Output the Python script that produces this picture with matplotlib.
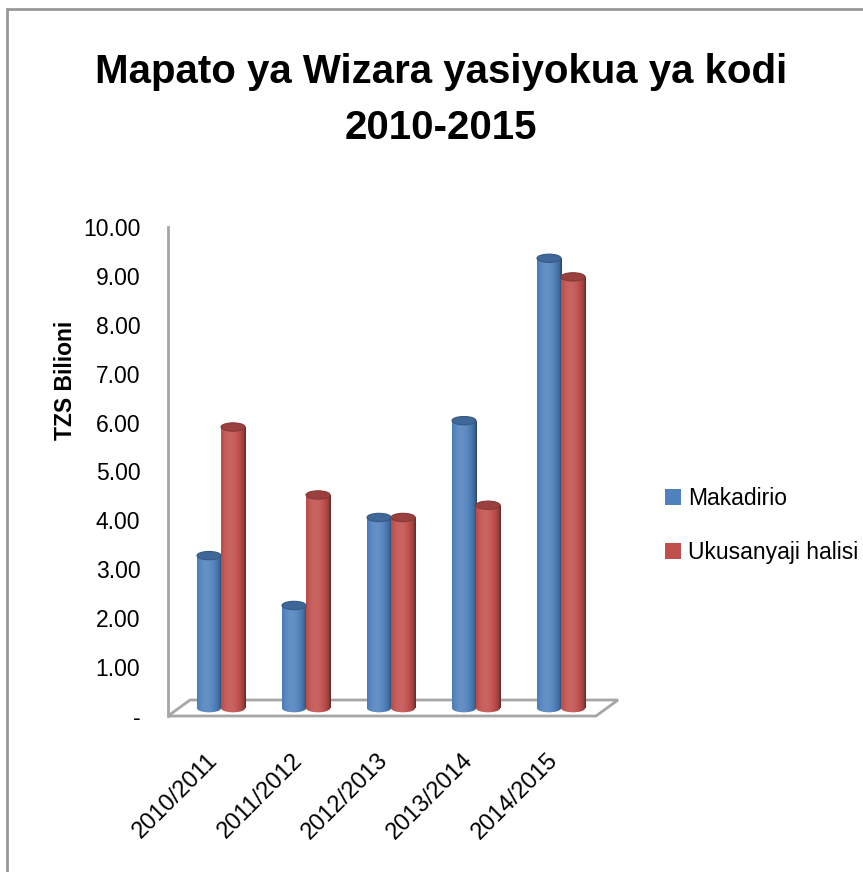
import numpy as np
import matplotlib
matplotlib.use("Agg")
import matplotlib.pyplot as plt
import matplotlib.transforms as mtransforms
from matplotlib.patches import Ellipse, Rectangle, Polygon
from matplotlib.lines import Line2D
from matplotlib.colors import to_rgb

categories = ["2010/2011", "2011/2012", "2012/2013", "2013/2014", "2014/2015"]
makadirio = [3.12, 2.10, 3.90, 5.88, 9.20]
ukusanyaji = [5.75, 4.36, 3.90, 4.15, 8.82]
series_names = ["Makadirio", "Ukusanyaji halisi"]
yticks = [0, 1, 2, 3, 4, 5, 6, 7, 8, 9, 10]
ytick_labels = ["-"] + [f"{v:.2f}" for v in yticks[1:]]
title = "Mapato ya Wizara yasiyokua ya kodi\n2010-2015"
ylabel = "TZS Bilioni"

FONT = ["Liberation Sans", "DejaVu Sans"]
plt.rcParams["font.family"] = FONT

colors = ["#4F81BD", "#C0504D"]

W, H = 863, 872
fig = plt.figure(figsize=(W / 100, H / 100), dpi=100)
fig.patch.set_facecolor("white")

# figure border (only top/left visible in the reference)
fig.add_artist(Rectangle((7 / W, -0.05), 1.2, 1 - 9 / H + 0.05, transform=fig.transFigure,
                         fill=False, edgecolor="#999999", linewidth=2.0))

left, right, bottom, top = 168, 600, 716, 227
ax = fig.add_axes([left / W, 1 - bottom / H, (right - left) / W, (bottom - top) / H])
ax.set_facecolor("none")

x = np.arange(len(categories))
bw = 0.283
depth_off = 0.16   # vertical shift for bars standing mid-depth on the floor
ell_h = 0.17       # ellipse height (data units) for cylinder caps


def shade(c, f):
    r = np.array(to_rgb(c))
    if f >= 1:
        return np.clip(r + (1 - r) * (f - 1), 0, 1)
    return np.clip(r * f, 0, 1)


def gradient(c, n=64):
    t = np.linspace(0, 1, n)
    prof = 1.12 - 0.45 * ((t - 0.38) / 0.62) ** 2
    prof = np.where(t > 0.9, prof - (t - 0.9) * 1.5, prof)
    return np.array([shade(c, f) for f in prof])[None, :, :]


for si, (vals, col) in enumerate(zip([makadirio, ukusanyaji], colors)):
    xs = x - bw / 2 + si * bw
    bars = ax.bar(xs, vals, width=bw, bottom=depth_off, color="none", edgecolor="none", zorder=2)
    grad = gradient(col)
    for b in bars:
        bx, by, bwid, bh = b.get_x(), b.get_y(), b.get_width(), b.get_height()
        ext = [bx, bx + bwid, by - ell_h, by + bh]
        body = Rectangle((bx, by), bwid, bh, transform=ax.transData)
        im = ax.imshow(grad, extent=ext, aspect="auto", zorder=3, interpolation="bilinear")
        im.set_clip_path(body)
        bot = Ellipse((bx + bwid / 2, by), bwid, ell_h, transform=ax.transData)
        im2 = ax.imshow(grad, extent=ext, aspect="auto", zorder=3, interpolation="bilinear")
        im2.set_clip_path(bot)
        ax.add_patch(Ellipse((bx + bwid / 2, by + bh), bwid, ell_h,
                             facecolor=shade(col, 0.8), edgecolor=shade(col, 0.7),
                             linewidth=0.8, zorder=4))

# floor and axis lines (3D look)
xl0 = -0.624
xl1 = xl0 + (596 - 168) / 85
dx = 22 / 85
dy = 16 / 48.9
floor = Polygon([[xl0, 0], [xl1, 0], [xl1 + dx, dy], [xl0 + dx, dy]], closed=True,
                facecolor="white", edgecolor="#a6a6a6", linewidth=2.0, zorder=1, clip_on=False)
ax.add_patch(floor)
ax.add_line(Line2D([xl0, xl0], [0, 10], color="#a6a6a6", linewidth=2.0, zorder=1, clip_on=False))

ax.set_xlim(xl0, xl0 + (right - left) / 85)
ax.set_ylim(0, 10)
for s in ax.spines.values():
    s.set_visible(False)

ax.set_yticks(yticks)
ax.set_yticklabels(ytick_labels, fontsize=16.5)
ax.tick_params(axis="y", length=0, pad=20)
ax.set_xticks(x)
ax.set_xticklabels(categories, fontsize=17, rotation=45, ha="right", va="top",
                   rotation_mode="anchor")
ax.tick_params(axis="x", length=0, pad=24)
shift = mtransforms.ScaledTranslation(-14 / 100, 0, fig.dpi_scale_trans)
for lbl in ax.get_xticklabels():
    lbl.set_transform(lbl.get_transform() + shift)

fig.text(65 / W, 1 - 380 / H, ylabel, rotation=90, ha="center", va="center",
         fontsize=16.5, fontweight="bold")
fig.text(441 / W, 1 - 100 / H, title, ha="center", va="center", fontsize=29,
         fontweight="bold", linespacing=1.6)

handles = [Rectangle((0, 0), 1, 1, facecolor=c, edgecolor="none") for c in colors]
fig.legend(handles, series_names, loc="upper left", bbox_to_anchor=(656 / W, 1 - 478 / H),
           frameon=False, fontsize=16.5, handlelength=0.7, handleheight=0.7, handletextpad=0.3,
           labelspacing=1.35, borderaxespad=0)

fig.savefig("out.png", dpi=100, facecolor="white")
